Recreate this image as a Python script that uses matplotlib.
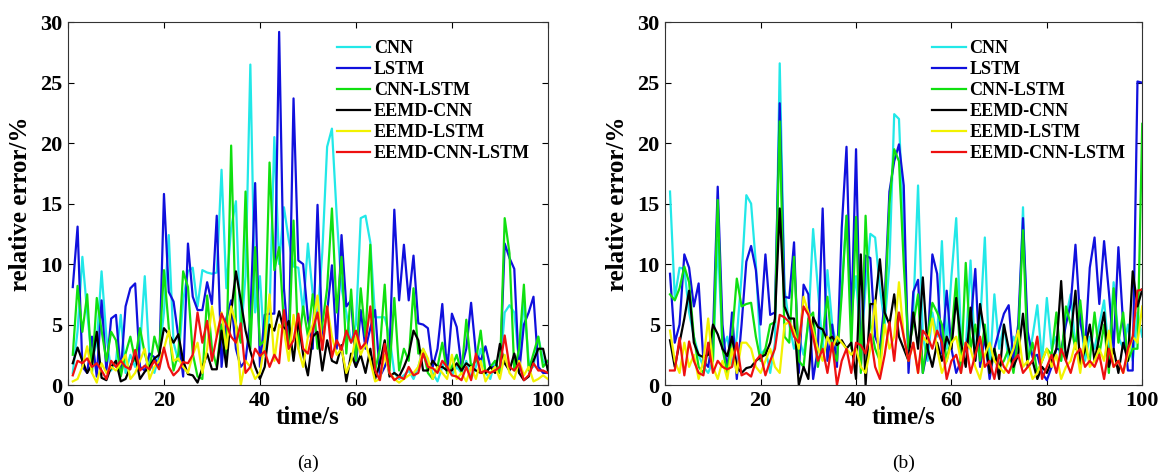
import matplotlib
matplotlib.use("Agg")
import matplotlib.pyplot as plt
import numpy as np

plt.rcParams['font.family'] = ['Liberation Serif', 'DejaVu Serif']

# ---- data (t = 1..100 s) ----
t = np.arange(1, 101)
labels = ['CNN', 'LSTM', 'CNN-LSTM', 'EEMD-CNN', 'EEMD-LSTM', 'EEMD-CNN-LSTM']
colors = ['#22e8e8', '#1010dd', '#10e010', '#000000', '#f2f200', '#ee1010']

# panel (a)
cnn_a = [1.0, 4.5, 10.6, 6.0, 2.0, 3.5, 9.4, 4.0, 1.2, 2.0,
         5.8, 1.0, 2.5, 1.5, 3.0, 9.0, 2.0, 1.0, 2.5, 6.0,
         12.4, 3.5, 2.0, 7.0, 9.4, 9.7, 6.5, 9.5, 9.3, 9.2,
         9.3, 17.8, 8.0, 13.0, 15.2, 4.0, 9.0, 26.5, 6.0, 9.0,
         2.5, 6.0, 20.5, 10.0, 14.7, 12.0, 9.8, 9.7, 6.0, 11.7,
         7.5, 5.5, 11.0, 19.7, 21.2, 14.0, 8.0, 6.0, 3.5, 5.0,
         13.8, 14.0, 11.8, 5.6, 5.6, 5.6, 4.0, 1.0, 0.5, 0.8,
         1.2, 0.5, 1.5, 3.0, 2.0, 1.0, 0.3, 1.5, 2.5, 0.8,
         1.5, 1.0, 2.0, 0.5, 1.5, 3.0, 1.0, 0.5, 2.0, 1.0,
         6.0, 6.6, 6.0, 2.0, 7.0, 2.0, 1.5, 4.0, 2.0, 1.5]
lstm_a = [8.1, 13.1, 1.5, 1.0, 4.0, 0.7, 7.0, 1.2, 5.5, 5.8,
          1.0, 6.5, 8.0, 8.4, 1.5, 1.2, 2.6, 2.3, 1.5, 15.8,
          7.7, 6.9, 4.0, 0.7, 11.7, 7.3, 6.2, 6.2, 8.5, 6.7,
          14.0, 1.5, 5.5, 7.0, 3.0, 1.5, 2.0, 5.5, 16.7, 1.5,
          5.8, 5.9, 5.9, 29.2, 8.0, 3.0, 23.7, 10.3, 10.0, 5.5,
          3.0, 14.9, 4.0, 6.0, 9.9, 3.0, 12.4, 6.5, 7.0, 1.5,
          6.2, 3.0, 4.7, 6.2, 0.7, 1.5, 2.6, 14.5, 7.0, 11.6,
          7.0, 10.7, 5.1, 5.0, 4.7, 1.5, 3.0, 6.7, 1.0, 5.9,
          4.8, 1.5, 3.0, 6.8, 2.6, 2.0, 3.2, 1.5, 1.5, 1.0,
          11.7, 10.5, 9.6, 1.0, 5.0, 6.0, 7.3, 1.5, 1.0, 1.0]
cnnlstm_a = [2.5, 8.2, 4.4, 7.5, 1.0, 7.2, 4.5, 2.0, 4.4, 3.7,
             0.7, 2.6, 4.0, 2.0, 4.7, 2.6, 1.2, 4.0, 2.6, 9.5,
             4.8, 1.2, 2.6, 9.4, 8.1, 2.6, 0.7, 0.5, 7.4, 3.0,
             1.5, 5.0, 2.0, 19.8, 5.0, 3.5, 16.0, 3.0, 11.4, 3.3,
             3.7, 18.4, 9.5, 11.4, 5.0, 3.0, 13.6, 3.0, 6.5, 4.0,
             7.5, 3.0, 5.0, 8.0, 14.6, 6.0, 10.6, 2.6, 7.9, 2.0,
             8.0, 4.0, 11.6, 1.2, 3.0, 8.3, 1.2, 7.2, 1.2, 3.0,
             2.0, 8.0, 2.6, 2.9, 1.0, 0.5, 1.5, 3.5, 1.0, 1.5,
             2.5, 1.0, 5.4, 1.5, 2.0, 4.5, 1.0, 1.5, 2.0, 1.0,
             13.8, 10.9, 1.2, 3.0, 8.3, 1.2, 2.6, 4.0, 1.5, 2.0]
eemdcnn_a = [1.8, 3.1, 2.0, 1.0, 1.7, 4.4, 0.6, 0.4, 1.5, 2.0,
             0.3, 0.5, 1.5, 2.5, 0.5, 1.1, 1.5, 2.2, 2.5, 4.7,
             4.2, 3.5, 4.2, 2.0, 0.9, 0.8, 0.2, 1.4, 2.6, 1.3,
             1.3, 4.5, 1.5, 6.0, 9.4, 7.0, 4.5, 2.8, 1.5, 0.5,
             1.5, 5.0, 4.5, 6.1, 4.5, 5.3, 2.0, 5.4, 2.5, 0.8,
             4.0, 4.4, 1.2, 3.7, 2.0, 1.8, 3.3, 0.3, 2.6, 1.5,
             2.5, 1.0, 3.0, 0.5, 1.8, 3.7, 0.7, 1.0, 0.7, 1.5,
             2.5, 4.5, 3.7, 1.2, 1.2, 2.0, 1.5, 1.5, 1.2, 1.2,
             1.8, 1.2, 1.8, 1.5, 1.2, 1.0, 1.0, 1.5, 1.0, 3.4,
             1.8, 1.2, 2.6, 1.0, 0.4, 0.7, 2.0, 3.0, 3.0, 1.2]
eemdlstm_a = [0.3, 0.5, 1.5, 3.2, 1.0, 0.2, 1.8, 1.0, 1.5, 1.2,
              1.8, 2.5, 0.5, 1.0, 2.0, 3.0, 0.5, 1.5, 2.0, 3.0,
              4.5, 2.0, 2.2, 1.5, 1.0, 2.5, 3.5, 1.0, 3.0, 6.5,
              4.0, 6.0, 3.0, 6.5, 5.0, 0.0, 2.0, 1.5, 0.5, 1.0,
              3.5, 7.5, 2.0, 5.0, 4.5, 2.0, 5.8, 3.0, 1.5, 4.0,
              5.0, 7.4, 3.0, 6.5, 4.0, 2.5, 3.0, 1.0, 2.0, 4.0,
              2.5, 3.5, 2.0, 0.3, 0.5, 2.5, 1.0, 0.5, 0.2, 0.5,
              0.8, 1.0, 1.5, 3.0, 2.2, 0.5, 1.5, 1.0, 0.5, 2.5,
              0.5, 1.0, 0.3, 1.5, 0.5, 2.0, 0.3, 1.0, 1.5, 0.5,
              2.5, 1.0, 0.5, 2.0, 0.8, 1.5, 0.3, 0.5, 0.8, 0.5]
eemdcnnlstm_a = [0.8, 2.0, 1.8, 2.2, 1.5, 1.8, 1.2, 0.5, 2.0, 1.5,
                 2.0, 1.5, 1.3, 2.9, 1.2, 1.6, 1.3, 2.0, 1.3, 3.1,
                 1.5, 0.8, 1.2, 1.9, 1.8, 2.5, 6.0, 3.5, 5.3, 2.0,
                 4.0, 5.9, 5.0, 4.0, 3.5, 5.1, 1.0, 1.5, 3.0, 2.4,
                 2.8, 1.5, 2.5, 1.8, 6.2, 3.0, 3.7, 5.9, 3.0, 2.6,
                 4.5, 6.0, 2.9, 6.5, 2.3, 3.7, 2.9, 4.5, 3.5, 4.5,
                 3.0, 3.5, 6.5, 1.2, 0.4, 3.4, 1.0, 0.4, 0.7, 0.5,
                 1.5, 0.8, 1.0, 2.6, 1.5, 1.4, 1.0, 2.0, 1.5, 0.8,
                 0.7, 0.4, 1.5, 0.4, 2.6, 1.0, 1.2, 1.0, 1.2, 1.5,
                 4.1, 1.5, 1.2, 1.8, 0.4, 0.8, 1.8, 1.2, 1.2, 1.0]

# panel (b)
cnn_b = [16.0, 7.2, 9.7, 9.6, 6.0, 4.0, 2.5, 1.5, 1.0, 2.0,
         12.0, 3.0, 4.0, 1.5, 4.0, 9.0, 15.7, 15.0, 10.0, 2.5,
         3.0, 1.0, 3.5, 26.6, 8.0, 5.0, 3.0, 4.0, 2.5, 5.0,
         12.9, 8.0, 3.0, 9.5, 5.0, 3.0, 8.0, 14.0, 6.0, 9.0,
         3.0, 8.0, 12.5, 12.2, 8.0, 5.0, 10.0, 22.4, 22.0, 12.0,
         3.0, 6.0, 16.5, 4.0, 2.0, 6.0, 4.0, 11.9, 3.0, 9.0,
         13.8, 4.0, 3.0, 10.3, 2.0, 5.0, 12.2, 1.0, 7.5, 3.0,
         5.0, 2.0, 4.0, 3.0, 14.7, 2.0, 4.0, 6.6, 2.0, 7.2,
         3.0, 4.0, 2.0, 5.6, 7.5, 3.0, 6.0, 2.0, 4.0, 3.0,
         5.0, 7.0, 2.5, 8.5, 4.0, 3.0, 5.0, 2.0, 6.0, 4.0]
lstm_b = [9.2, 3.5, 5.0, 10.8, 9.7, 6.5, 8.4, 2.0, 1.5, 4.0,
          16.4, 5.0, 1.0, 6.0, 0.5, 5.0, 10.2, 11.5, 9.5, 5.0,
          10.8, 5.8, 6.0, 23.3, 7.3, 7.2, 11.8, 1.0, 8.3, 7.5,
          0.5, 3.0, 14.6, 2.0, 5.0, 1.5, 13.0, 19.7, 5.0, 19.5,
          1.5, 10.7, 10.5, 4.0, 3.0, 7.0, 16.0, 18.5, 19.9, 16.5,
          1.0, 7.7, 8.7, 1.0, 3.0, 10.8, 9.2, 2.6, 7.8, 3.0,
          1.0, 2.0, 3.0, 5.0, 9.6, 1.5, 4.0, 0.5, 3.0, 4.5,
          5.9, 6.6, 2.0, 5.0, 13.8, 4.4, 2.3, 2.5, 1.0, 0.4,
          1.5, 3.0, 2.9, 5.0, 6.7, 11.6, 5.3, 3.0, 9.7, 12.2,
          6.7, 11.9, 7.7, 3.0, 11.4, 5.0, 1.2, 1.2, 25.1, 25.0]
cnnlstm_b = [7.5, 7.0, 8.0, 9.8, 8.5, 4.0, 1.5, 1.0, 3.0, 2.0,
             15.3, 3.0, 1.0, 4.0, 8.8, 6.5, 6.7, 6.8, 4.0, 2.0,
             3.0, 5.0, 5.2, 21.8, 4.0, 3.5, 10.6, 2.0, 1.5, 5.5,
             6.0, 1.5, 4.0, 7.3, 3.0, 2.0, 7.5, 14.0, 3.0, 13.9,
             1.0, 14.0, 5.0, 3.0, 2.0, 6.0, 15.0, 19.5, 18.5, 10.0,
             3.0, 5.0, 7.5, 1.0, 4.0, 6.8, 6.0, 5.0, 2.0, 4.0,
             8.8, 1.0, 10.1, 3.0, 5.0, 2.0, 5.0, 1.0, 3.0, 1.5,
             2.0, 3.0, 1.0, 4.0, 12.8, 2.0, 3.5, 1.0, 2.0, 3.0,
             2.5, 6.0, 2.0, 6.5, 5.0, 3.0, 7.0, 3.0, 2.0, 6.0,
             2.5, 5.0, 1.0, 8.0, 3.5, 6.0, 2.0, 3.0, 3.0, 21.6]
eemdcnn_b = [3.7, 1.5, 3.5, 5.5, 7.8, 3.5, 2.5, 2.3, 2.5, 5.0,
             4.2, 3.0, 2.4, 4.0, 1.5, 1.0, 1.4, 1.5, 2.0, 2.3,
             2.5, 3.5, 5.5, 14.6, 6.5, 5.5, 5.5, 0.0, 1.5, 0.5,
             5.6, 4.8, 4.6, 3.7, 4.0, 3.3, 3.7, 3.0, 3.5, 0.5,
             10.8, 0.0, 6.7, 6.7, 10.4, 6.0, 5.0, 7.5, 4.0, 3.0,
             2.0, 6.0, 3.0, 8.9, 3.0, 1.5, 3.5, 2.0, 4.0, 3.0,
             7.2, 3.5, 1.5, 6.4, 2.0, 6.7, 4.0, 1.0, 3.0, 0.5,
             5.0, 3.0, 1.5, 2.5, 5.9, 1.5, 2.0, 0.5, 1.5, 1.0,
             2.0, 3.0, 8.6, 2.0, 4.0, 7.8, 1.5, 3.0, 5.0, 2.0,
             4.0, 6.0, 1.5, 3.0, 1.0, 3.5, 2.0, 9.4, 6.5, 7.9]
eemdlstm_b = [4.5, 2.0, 1.0, 3.5, 1.5, 2.5, 0.5, 2.0, 5.5, 1.5,
              0.5, 2.0, 0.5, 3.0, 1.0, 3.5, 3.5, 3.0, 1.5, 1.0,
              2.0, 3.0, 1.5, 1.0, 5.0, 5.2, 4.5, 3.0, 7.3, 6.0,
              4.5, 3.0, 2.0, 4.0, 3.0, 4.0, 3.5, 3.0, 2.5, 3.0,
              1.5, 1.0, 3.0, 7.0, 1.0, 5.0, 3.0, 4.0, 8.5, 4.0,
              2.0, 3.5, 1.0, 4.0, 3.5, 5.5, 3.0, 1.0, 2.0, 3.5,
              4.0, 2.0, 3.5, 3.0, 1.5, 0.5, 2.5, 3.5, 2.0, 1.5,
              1.0, 2.0, 3.0, 4.5, 1.5, 2.0, 0.5, 1.0, 2.0, 3.0,
              1.5, 2.5, 0.5, 1.5, 2.0, 3.5, 1.0, 4.0, 1.5, 2.0,
              3.0, 2.0, 4.5, 1.5, 2.0, 1.0, 2.5, 4.0, 3.5, 6.5]
eemdcnnlstm_b = [1.2, 1.2, 3.9, 0.8, 3.6, 2.0, 1.0, 0.8, 3.5, 1.0,
                 2.0, 1.5, 1.3, 1.5, 3.5, 0.8, 1.0, 0.7, 2.0, 2.5,
                 0.8, 2.0, 3.0, 5.8, 5.6, 5.2, 4.0, 3.5, 6.5, 5.8,
                 4.0, 2.0, 3.0, 1.0, 3.5, 0.0, 2.0, 3.0, 1.0, 3.5,
                 3.3, 2.6, 4.2, 1.5, 0.5, 2.5, 5.2, 2.0, 6.0, 4.0,
                 2.0, 3.5, 1.0, 4.5, 4.0, 3.0, 4.5, 3.5, 0.5, 2.0,
                 2.5, 1.0, 3.5, 1.0, 2.5, 4.0, 1.5, 2.0, 0.5, 2.5,
                 1.5, 1.0, 2.0, 2.5, 1.0, 1.5, 2.0, 4.0, 0.5, 1.5,
                 2.5, 1.0, 3.0, 2.0, 1.0, 2.5, 3.0, 1.5, 2.0, 1.5,
                 2.5, 0.5, 3.0, 1.5, 2.0, 1.0, 3.0, 4.0, 7.8, 7.9]

series_a = [cnn_a, lstm_a, cnnlstm_a, eemdcnn_a, eemdlstm_a, eemdcnnlstm_a]
series_b = [cnn_b, lstm_b, cnnlstm_b, eemdcnn_b, eemdlstm_b, eemdcnnlstm_b]

fig = plt.figure(figsize=(11.62, 4.73), dpi=100)
ax_a = fig.add_axes([0.0585, 0.186, 0.413, 0.767])
ax_b = fig.add_axes([0.5725, 0.186, 0.4105, 0.767])


def draw_panel(ax, series, caption):
    for ys, lab, c in zip(series, labels, colors):
        ax.plot(t, ys, color=c, lw=1.6, label=lab)
    ax.set_xlim(0, 100)
    ax.set_ylim(0, 30)
    ax.set_xticks(np.arange(0, 101, 20))
    ax.set_yticks(np.arange(0, 31, 5))
    ax.tick_params(direction='in', top=True, right=True, length=4, width=0.8,
                   labelsize=16, pad=4)
    for lbl in ax.get_xticklabels() + ax.get_yticklabels():
        lbl.set_fontweight('bold')
    for sp in ax.spines.values():
        sp.set_linewidth(0.8)
        sp.set_color('#333333')
    ax.set_xlabel('time/s', fontsize=18, fontweight='bold', labelpad=-3)
    ax.set_ylabel('relative error/%', fontsize=18, fontweight='bold', labelpad=6)
    ax.legend(loc='upper left', bbox_to_anchor=(0.56, 0.95), frameon=False,
              prop={'weight': 'bold', 'size': 13}, handlelength=1.85,
              handletextpad=0.2, labelspacing=0.22, borderaxespad=0,
              borderpad=0)
    bb = ax.get_position()
    fig.text(bb.x0 + bb.width / 2, 0.002, caption, ha='center', va='bottom',
             fontsize=14)


draw_panel(ax_a, series_a, '(a)')
draw_panel(ax_b, series_b, '(b)')

fig.savefig('out.png', dpi=100)
